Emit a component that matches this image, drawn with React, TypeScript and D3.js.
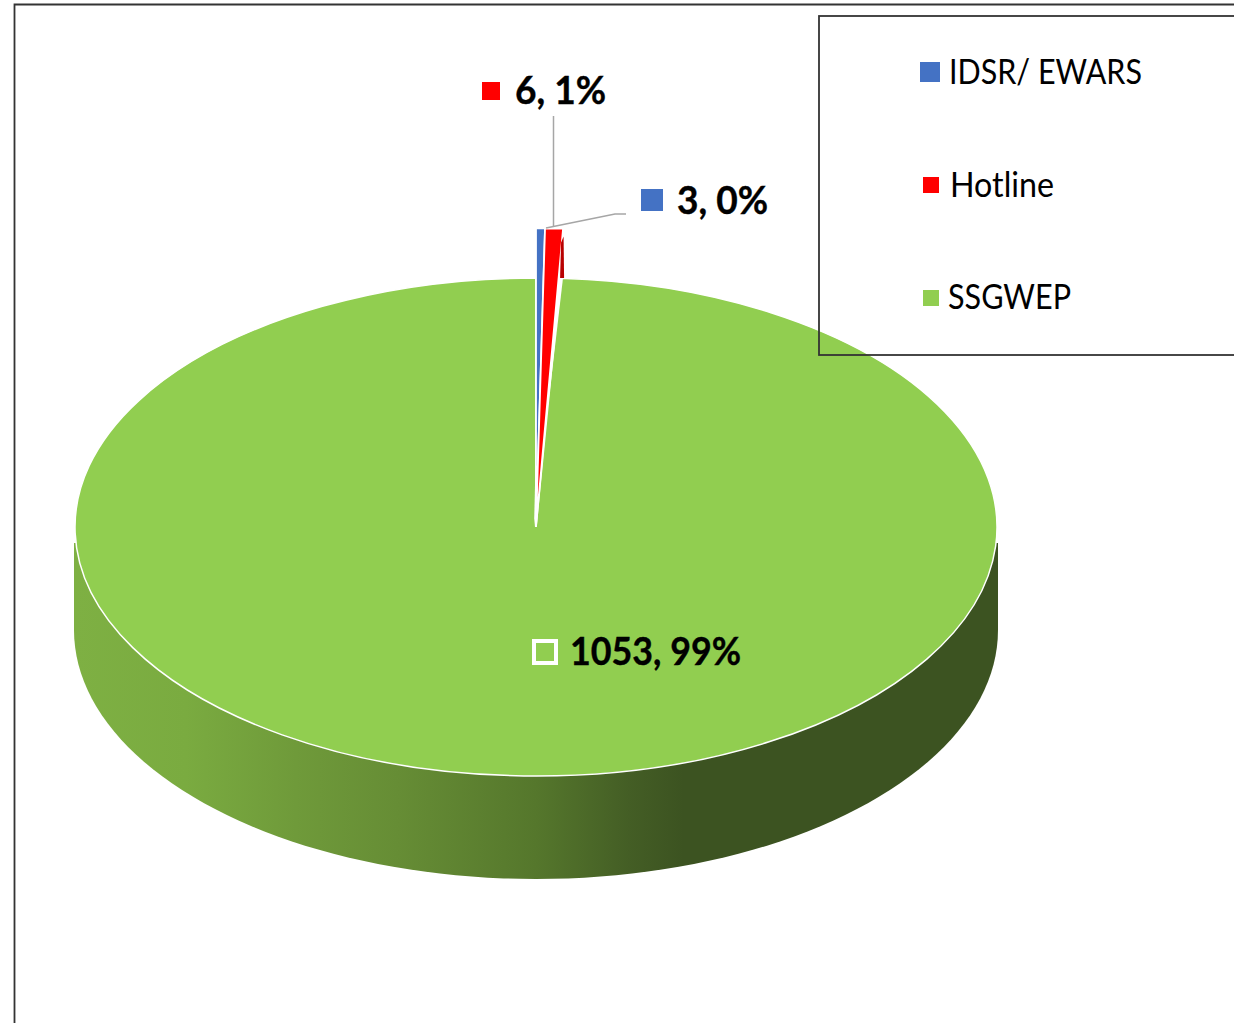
import React from 'react';
import * as d3 from 'd3';

const categories = ['IDSR/ EWARS', 'Hotline', 'SSGWEP'];
const counts = [3, 6, 1053];
const percents = ['0%', '1%', '99%'];
const colors = ['#4472c4', '#ff0000', '#91ce50'];

// where things sit on the page
const width = 1234;
const height = 1023;
const cx = 536;
const cy = 527;
const rx = 461;
const ry = 249;
const depth = 103;
const explode = 1.2; // the two small slices stick out of the disc
const wedgeSqueeze = 0.92; // and are a bit narrower than the disc would make them

const labelPos = [
  { x: 677, y: 214, w: 91, mx: 641, my: 189, ms: 22 },
  { x: 515, y: 104, w: 91, mx: 482, my: 82, ms: 18 },
  { x: 570, y: 665, w: 171, mx: 534, my: 641, ms: 22 },
];
const legendPos = [
  { x: 949, y: 84, w: 193, mx: 920, my: 62, ms: 20 },
  { x: 950, y: 197, w: 104, mx: 923, my: 177, ms: 16 },
  { x: 948, y: 309, w: 123, mx: 923, my: 290, ms: 16 },
];

const sideStops: [number, string][] = [
  [0, '#7eb043'],
  [0.12, '#7aab40'],
  [0.24, '#6f9a3a'],
  [0.35, '#668d35'],
  [0.5, '#55772c'],
  [0.6, '#445e25'],
  [0.66, '#3c5321'],
  [1, '#3c5321'],
];

const font = 'Lato, "Open Sans", sans-serif';

export default function App() {
  const slices = d3.pie<number>().sort(null).startAngle(0).endAngle(2 * Math.PI)(counts);
  const arc = d3.arc<d3.PieArcDatum<number>>().innerRadius(0);

  // front wall of the disc: lower half of the ellipse, pushed down by depth
  const sideAngles = d3.range(90, 271, 2).map((d) => (d * Math.PI) / 180);
  const sideLine = d3.line<number>()
    .x((a) => cx + (rx + 1) * Math.sin(a))
    .y((a) => cy + depth - ry * Math.cos(a));
  const sidePath = `M${cx + rx + 1},${cy + 16}L${sideLine(sideAngles)!.slice(1)}L${cx - rx - 1},${cy + 16}Z`;

  // dark edge of the red slice
  const redEnd = slices[1].endAngle;
  const redX = cx + rx * explode * wedgeSqueeze * Math.sin(redEnd);
  const redY = cy - ry * explode * Math.cos(redEnd);
  const redEdge = `M${redX - 2},${redY + 14}L${redX + 0.5},${redY + 8}L${redX + 1},${cy - ry}L${redX - 3},${cy - ry}Z`;

  return (
    <svg
      width={width}
      height={height}
      viewBox={`0 0 ${width} ${height}`}
      style={{ position: 'absolute', left: 0, top: 0, display: 'block', background: '#fff' }}
    >
      <defs>
        <linearGradient id="side" gradientUnits="userSpaceOnUse" x1={cx - rx} x2={cx + rx} y1={0} y2={0}>
          {sideStops.map(([o, c]) => (
            <stop key={o} offset={o} stopColor={c} />
          ))}
        </linearGradient>
      </defs>

      <path d={`M14.5,${height}V4.5H${width}`} fill="none" stroke="#333" strokeWidth={1.8} />

      <path d={sidePath} fill="url(#side)" />
      <g transform={`translate(${cx},${cy}) scale(1,${ry / rx})`}>
        <path
          d={arc.outerRadius(rx)(slices[2])!}
          fill={colors[2]}
          stroke="#fff"
          strokeWidth={1.5}
          vectorEffect="non-scaling-stroke"
        />
      </g>
      <path d={`M${cx - 2},${cy}L${cx + 4},${cy - ry}H${cx + 27}Z`} fill="#fff" />
      <g transform={`translate(${cx},${cy}) scale(${wedgeSqueeze},${ry / rx})`}>
        {slices.slice(0, 2).map((s, i) => (
          <path
            key={i}
            d={arc.outerRadius(rx * explode)(s)!}
            fill={colors[i]}
            stroke="#fff"
            strokeWidth={1.8}
            vectorEffect="non-scaling-stroke"
          />
        ))}
      </g>
      <path d={redEdge} fill="#b80000" />

      <path d={`M553.5,116V227`} fill="none" stroke="#a6a6a6" strokeWidth={1.5} />
      <path d={`M626,214H615L546,228`} fill="none" stroke="#a6a6a6" strokeWidth={1.5} />

      {categories.map((c, i) => {
        const p = labelPos[i];
        return (
          <g key={c}>
            <rect
              x={p.mx}
              y={p.my}
              width={p.ms}
              height={p.ms}
              fill={i === 2 ? 'none' : colors[i]}
              stroke={i === 2 ? '#fff' : 'none'}
              strokeWidth={4}
            />
            <text
              x={p.x}
              y={p.y}
              fontFamily={font}
              fontWeight={700}
              fontSize={39}
              fill="#000"
              stroke="#000"
              strokeWidth={0.4}
              textLength={p.w}
              lengthAdjust="spacingAndGlyphs"
            >
              {`${counts[i]}, ${percents[i]}`}
            </text>
          </g>
        );
      })}

      <rect x={819} y={16} width={width} height={339} fill="none" stroke="#333" strokeWidth={1.8} />
      {categories.map((c, i) => {
        const p = legendPos[i];
        return (
          <g key={c}>
            <rect x={p.mx} y={p.my} width={p.ms} height={p.ms} fill={colors[i]} />
            <text
              x={p.x}
              y={p.y}
              fontFamily={font}
              fontSize={34}
              fill="#000"
              textLength={p.w}
              lengthAdjust="spacingAndGlyphs"
            >
              {c}
            </text>
          </g>
        );
      })}
    </svg>
  );
}
